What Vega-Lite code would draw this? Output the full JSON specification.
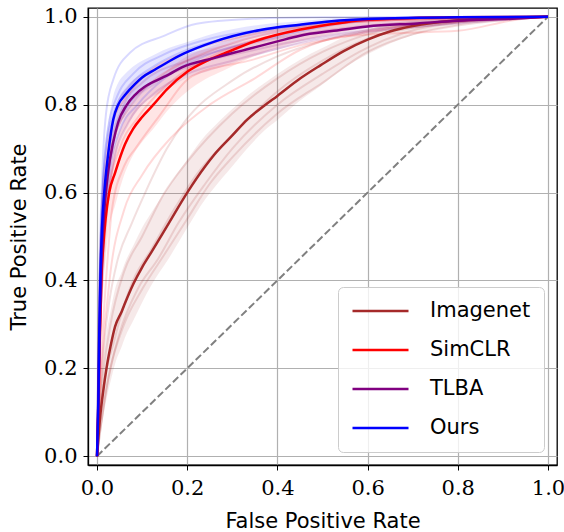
{
  "$schema": "https://vega.github.io/schema/vega-lite/v6.json",
  "width": 469,
  "height": 457,
  "autosize": {"type": "none"},
  "padding": {"left": 88, "top": 8, "right": 7, "bottom": 67},
  "config": {
    "view": {"stroke": "black", "strokeWidth": 1.3},
    "axis": {
      "labelFont": "DejaVu Serif",
      "labelFontSize": 21,
      "labelColor": "black",
      "titleFont": "DejaVu Sans",
      "titleFontSize": 21,
      "titleFontWeight": "normal",
      "titleColor": "black",
      "domainColor": "black",
      "domainWidth": 1.3,
      "tickColor": "black",
      "tickSize": 5,
      "tickWidth": 1,
      "grid": true,
      "gridColor": "#b0b0b0",
      "gridWidth": 1.2
    },
    "axisX": {"labelPadding": 7, "titlePadding": 12},
    "axisY": {"labelPadding": 6, "titlePadding": 14},
    "legend": {
      "labelFont": "DejaVu Sans",
      "labelFontSize": 21,
      "labelColor": "black",
      "symbolStrokeWidth": 2.5,
      "rowPadding": 17,
      "labelOffset": 20,
      "padding": 13,
      "fillColor": "rgba(255,255,255,0.8)",
      "strokeColor": "#cccccc",
      "cornerRadius": 5
    }
  },
  "resolve": {"legend": {"color": "independent"}},
  "datasets": {
    "diag": [{"fpr": 0, "tpr": 0}, {"fpr": 1, "tpr": 1}],
    "mean": [
      {"method": "Imagenet", "fpr": 0, "tpr": 0, "lo": 0, "hi": 0},
      {"method": "Imagenet", "fpr": 0.007, "tpr": 0.09, "lo": 0.05, "hi": 0.14},
      {"method": "Imagenet", "fpr": 0.014, "tpr": 0.15, "lo": 0.09, "hi": 0.22},
      {"method": "Imagenet", "fpr": 0.021, "tpr": 0.2, "lo": 0.13, "hi": 0.28},
      {"method": "Imagenet", "fpr": 0.03, "tpr": 0.25, "lo": 0.17, "hi": 0.33},
      {"method": "Imagenet", "fpr": 0.04, "tpr": 0.295, "lo": 0.21, "hi": 0.38},
      {"method": "Imagenet", "fpr": 0.055, "tpr": 0.33, "lo": 0.25, "hi": 0.42},
      {"method": "Imagenet", "fpr": 0.062, "tpr": 0.348, "lo": 0.27, "hi": 0.44},
      {"method": "Imagenet", "fpr": 0.081, "tpr": 0.393, "lo": 0.31, "hi": 0.48},
      {"method": "Imagenet", "fpr": 0.1, "tpr": 0.43, "lo": 0.35, "hi": 0.52},
      {"method": "Imagenet", "fpr": 0.121, "tpr": 0.465, "lo": 0.39, "hi": 0.555},
      {"method": "Imagenet", "fpr": 0.159, "tpr": 0.53, "lo": 0.45, "hi": 0.615},
      {"method": "Imagenet", "fpr": 0.2, "tpr": 0.6, "lo": 0.52, "hi": 0.675},
      {"method": "Imagenet", "fpr": 0.24, "tpr": 0.66, "lo": 0.585, "hi": 0.73},
      {"method": "Imagenet", "fpr": 0.259, "tpr": 0.685, "lo": 0.61, "hi": 0.75},
      {"method": "Imagenet", "fpr": 0.3, "tpr": 0.73, "lo": 0.66, "hi": 0.79},
      {"method": "Imagenet", "fpr": 0.333, "tpr": 0.766, "lo": 0.7, "hi": 0.82},
      {"method": "Imagenet", "fpr": 0.37, "tpr": 0.797, "lo": 0.74, "hi": 0.848},
      {"method": "Imagenet", "fpr": 0.4, "tpr": 0.82, "lo": 0.765, "hi": 0.87},
      {"method": "Imagenet", "fpr": 0.451, "tpr": 0.86, "lo": 0.81, "hi": 0.903},
      {"method": "Imagenet", "fpr": 0.496, "tpr": 0.89, "lo": 0.843, "hi": 0.927},
      {"method": "Imagenet", "fpr": 0.547, "tpr": 0.922, "lo": 0.883, "hi": 0.953},
      {"method": "Imagenet", "fpr": 0.6, "tpr": 0.948, "lo": 0.915, "hi": 0.97},
      {"method": "Imagenet", "fpr": 0.651, "tpr": 0.967, "lo": 0.94, "hi": 0.985},
      {"method": "Imagenet", "fpr": 0.7, "tpr": 0.979, "lo": 0.958, "hi": 0.991},
      {"method": "Imagenet", "fpr": 0.8, "tpr": 0.992, "lo": 0.98, "hi": 0.998},
      {"method": "Imagenet", "fpr": 0.894, "tpr": 0.997, "lo": 0.993, "hi": 1},
      {"method": "Imagenet", "fpr": 1, "tpr": 1, "lo": 1, "hi": 1},

      {"method": "SimCLR", "fpr": 0, "tpr": 0, "lo": 0, "hi": 0},
      {"method": "SimCLR", "fpr": 0.003, "tpr": 0.1, "lo": 0.06, "hi": 0.16},
      {"method": "SimCLR", "fpr": 0.006, "tpr": 0.26, "lo": 0.18, "hi": 0.35},
      {"method": "SimCLR", "fpr": 0.01, "tpr": 0.41, "lo": 0.32, "hi": 0.5},
      {"method": "SimCLR", "fpr": 0.014, "tpr": 0.48, "lo": 0.39, "hi": 0.57},
      {"method": "SimCLR", "fpr": 0.019, "tpr": 0.54, "lo": 0.45, "hi": 0.62},
      {"method": "SimCLR", "fpr": 0.027, "tpr": 0.6, "lo": 0.52, "hi": 0.67},
      {"method": "SimCLR", "fpr": 0.04, "tpr": 0.645, "lo": 0.57, "hi": 0.71},
      {"method": "SimCLR", "fpr": 0.062, "tpr": 0.71, "lo": 0.645, "hi": 0.77},
      {"method": "SimCLR", "fpr": 0.08, "tpr": 0.745, "lo": 0.685, "hi": 0.8},
      {"method": "SimCLR", "fpr": 0.1, "tpr": 0.772, "lo": 0.715, "hi": 0.825},
      {"method": "SimCLR", "fpr": 0.125, "tpr": 0.8, "lo": 0.745, "hi": 0.85},
      {"method": "SimCLR", "fpr": 0.155, "tpr": 0.835, "lo": 0.785, "hi": 0.878},
      {"method": "SimCLR", "fpr": 0.2, "tpr": 0.875, "lo": 0.83, "hi": 0.91},
      {"method": "SimCLR", "fpr": 0.24, "tpr": 0.898, "lo": 0.858, "hi": 0.928},
      {"method": "SimCLR", "fpr": 0.281, "tpr": 0.916, "lo": 0.878, "hi": 0.943},
      {"method": "SimCLR", "fpr": 0.355, "tpr": 0.946, "lo": 0.913, "hi": 0.968},
      {"method": "SimCLR", "fpr": 0.451, "tpr": 0.971, "lo": 0.945, "hi": 0.985},
      {"method": "SimCLR", "fpr": 0.54, "tpr": 0.986, "lo": 0.965, "hi": 0.995},
      {"method": "SimCLR", "fpr": 0.6, "tpr": 0.993, "lo": 0.975, "hi": 0.998},
      {"method": "SimCLR", "fpr": 0.8, "tpr": 0.999, "lo": 0.99, "hi": 1},
      {"method": "SimCLR", "fpr": 1, "tpr": 1, "lo": 1, "hi": 1},

      {"method": "TLBA", "fpr": 0, "tpr": 0, "lo": 0, "hi": 0},
      {"method": "TLBA", "fpr": 0.003, "tpr": 0.12, "lo": 0.08, "hi": 0.17},
      {"method": "TLBA", "fpr": 0.006, "tpr": 0.28, "lo": 0.21, "hi": 0.35},
      {"method": "TLBA", "fpr": 0.009, "tpr": 0.41, "lo": 0.33, "hi": 0.49},
      {"method": "TLBA", "fpr": 0.012, "tpr": 0.49, "lo": 0.41, "hi": 0.57},
      {"method": "TLBA", "fpr": 0.017, "tpr": 0.57, "lo": 0.49, "hi": 0.64},
      {"method": "TLBA", "fpr": 0.025, "tpr": 0.65, "lo": 0.58, "hi": 0.71},
      {"method": "TLBA", "fpr": 0.036, "tpr": 0.715, "lo": 0.655, "hi": 0.77},
      {"method": "TLBA", "fpr": 0.047, "tpr": 0.76, "lo": 0.71, "hi": 0.81},
      {"method": "TLBA", "fpr": 0.065, "tpr": 0.798, "lo": 0.75, "hi": 0.84},
      {"method": "TLBA", "fpr": 0.085, "tpr": 0.823, "lo": 0.78, "hi": 0.86},
      {"method": "TLBA", "fpr": 0.105, "tpr": 0.84, "lo": 0.805, "hi": 0.873},
      {"method": "TLBA", "fpr": 0.136, "tpr": 0.857, "lo": 0.825, "hi": 0.887},
      {"method": "TLBA", "fpr": 0.16, "tpr": 0.869, "lo": 0.838, "hi": 0.897},
      {"method": "TLBA", "fpr": 0.188, "tpr": 0.885, "lo": 0.855, "hi": 0.911},
      {"method": "TLBA", "fpr": 0.259, "tpr": 0.906, "lo": 0.88, "hi": 0.93},
      {"method": "TLBA", "fpr": 0.303, "tpr": 0.918, "lo": 0.895, "hi": 0.94},
      {"method": "TLBA", "fpr": 0.333, "tpr": 0.926, "lo": 0.905, "hi": 0.946},
      {"method": "TLBA", "fpr": 0.4, "tpr": 0.944, "lo": 0.925, "hi": 0.96},
      {"method": "TLBA", "fpr": 0.45, "tpr": 0.957, "lo": 0.94, "hi": 0.97},
      {"method": "TLBA", "fpr": 0.525, "tpr": 0.968, "lo": 0.955, "hi": 0.98},
      {"method": "TLBA", "fpr": 0.6, "tpr": 0.978, "lo": 0.965, "hi": 0.988},
      {"method": "TLBA", "fpr": 0.71, "tpr": 0.985, "lo": 0.975, "hi": 0.993},
      {"method": "TLBA", "fpr": 0.8, "tpr": 0.991, "lo": 0.984, "hi": 0.996},
      {"method": "TLBA", "fpr": 0.93, "tpr": 0.996, "lo": 0.992, "hi": 0.999},
      {"method": "TLBA", "fpr": 1, "tpr": 1, "lo": 1, "hi": 1},

      {"method": "Ours", "fpr": 0, "tpr": 0, "lo": 0, "hi": 0},
      {"method": "Ours", "fpr": 0.003, "tpr": 0.13, "lo": 0.09, "hi": 0.18},
      {"method": "Ours", "fpr": 0.005, "tpr": 0.28, "lo": 0.21, "hi": 0.36},
      {"method": "Ours", "fpr": 0.008, "tpr": 0.43, "lo": 0.35, "hi": 0.52},
      {"method": "Ours", "fpr": 0.011, "tpr": 0.52, "lo": 0.44, "hi": 0.61},
      {"method": "Ours", "fpr": 0.016, "tpr": 0.6, "lo": 0.52, "hi": 0.69},
      {"method": "Ours", "fpr": 0.025, "tpr": 0.69, "lo": 0.62, "hi": 0.76},
      {"method": "Ours", "fpr": 0.036, "tpr": 0.766, "lo": 0.71, "hi": 0.82},
      {"method": "Ours", "fpr": 0.047, "tpr": 0.8, "lo": 0.75, "hi": 0.85},
      {"method": "Ours", "fpr": 0.062, "tpr": 0.822, "lo": 0.775, "hi": 0.87},
      {"method": "Ours", "fpr": 0.084, "tpr": 0.847, "lo": 0.805, "hi": 0.89},
      {"method": "Ours", "fpr": 0.1, "tpr": 0.862, "lo": 0.825, "hi": 0.9},
      {"method": "Ours", "fpr": 0.129, "tpr": 0.88, "lo": 0.845, "hi": 0.915},
      {"method": "Ours", "fpr": 0.162, "tpr": 0.9, "lo": 0.87, "hi": 0.93},
      {"method": "Ours", "fpr": 0.192, "tpr": 0.916, "lo": 0.89, "hi": 0.94},
      {"method": "Ours", "fpr": 0.259, "tpr": 0.943, "lo": 0.922, "hi": 0.962},
      {"method": "Ours", "fpr": 0.362, "tpr": 0.97, "lo": 0.955, "hi": 0.982},
      {"method": "Ours", "fpr": 0.45, "tpr": 0.982, "lo": 0.97, "hi": 0.99},
      {"method": "Ours", "fpr": 0.52, "tpr": 0.99, "lo": 0.982, "hi": 0.996},
      {"method": "Ours", "fpr": 0.6, "tpr": 0.995, "lo": 0.99, "hi": 0.999},
      {"method": "Ours", "fpr": 0.8, "tpr": 0.999, "lo": 0.997, "hi": 1},
      {"method": "Ours", "fpr": 1, "tpr": 1, "lo": 1, "hi": 1}
    ],
    "folds": [
      {"method": "Imagenet", "fold": "B1", "fpr": 0, "tpr": 0},
      {"method": "Imagenet", "fold": "B1", "fpr": 0.005, "tpr": 0.1},
      {"method": "Imagenet", "fold": "B1", "fpr": 0.015, "tpr": 0.25},
      {"method": "Imagenet", "fold": "B1", "fpr": 0.03, "tpr": 0.37},
      {"method": "Imagenet", "fold": "B1", "fpr": 0.044, "tpr": 0.44},
      {"method": "Imagenet", "fold": "B1", "fpr": 0.077, "tpr": 0.53},
      {"method": "Imagenet", "fold": "B1", "fpr": 0.107, "tpr": 0.6},
      {"method": "Imagenet", "fold": "B1", "fpr": 0.155, "tpr": 0.7},
      {"method": "Imagenet", "fold": "B1", "fpr": 0.192, "tpr": 0.758},
      {"method": "Imagenet", "fold": "B1", "fpr": 0.303, "tpr": 0.857},
      {"method": "Imagenet", "fold": "B1", "fpr": 0.4, "tpr": 0.91},
      {"method": "Imagenet", "fold": "B1", "fpr": 0.5, "tpr": 0.945},
      {"method": "Imagenet", "fold": "B1", "fpr": 0.6, "tpr": 0.97},
      {"method": "Imagenet", "fold": "B1", "fpr": 0.8, "tpr": 0.99},
      {"method": "Imagenet", "fold": "B1", "fpr": 1, "tpr": 1},
      {"method": "Imagenet", "fold": "B2", "fpr": 0, "tpr": 0},
      {"method": "Imagenet", "fold": "B2", "fpr": 0.01, "tpr": 0.15},
      {"method": "Imagenet", "fold": "B2", "fpr": 0.03, "tpr": 0.3},
      {"method": "Imagenet", "fold": "B2", "fpr": 0.06, "tpr": 0.42},
      {"method": "Imagenet", "fold": "B2", "fpr": 0.1, "tpr": 0.5},
      {"method": "Imagenet", "fold": "B2", "fpr": 0.15, "tpr": 0.6},
      {"method": "Imagenet", "fold": "B2", "fpr": 0.2, "tpr": 0.67},
      {"method": "Imagenet", "fold": "B2", "fpr": 0.3, "tpr": 0.78},
      {"method": "Imagenet", "fold": "B2", "fpr": 0.4, "tpr": 0.86},
      {"method": "Imagenet", "fold": "B2", "fpr": 0.5, "tpr": 0.92},
      {"method": "Imagenet", "fold": "B2", "fpr": 0.6, "tpr": 0.96},
      {"method": "Imagenet", "fold": "B2", "fpr": 0.8, "tpr": 0.99},
      {"method": "Imagenet", "fold": "B2", "fpr": 1, "tpr": 1},
      {"method": "Imagenet", "fold": "B3", "fpr": 0, "tpr": 0},
      {"method": "Imagenet", "fold": "B3", "fpr": 0.01, "tpr": 0.08},
      {"method": "Imagenet", "fold": "B3", "fpr": 0.03, "tpr": 0.2},
      {"method": "Imagenet", "fold": "B3", "fpr": 0.06, "tpr": 0.3},
      {"method": "Imagenet", "fold": "B3", "fpr": 0.1, "tpr": 0.38},
      {"method": "Imagenet", "fold": "B3", "fpr": 0.15, "tpr": 0.46},
      {"method": "Imagenet", "fold": "B3", "fpr": 0.2, "tpr": 0.54},
      {"method": "Imagenet", "fold": "B3", "fpr": 0.25, "tpr": 0.62},
      {"method": "Imagenet", "fold": "B3", "fpr": 0.3, "tpr": 0.68},
      {"method": "Imagenet", "fold": "B3", "fpr": 0.4, "tpr": 0.78},
      {"method": "Imagenet", "fold": "B3", "fpr": 0.5, "tpr": 0.85},
      {"method": "Imagenet", "fold": "B3", "fpr": 0.6, "tpr": 0.92},
      {"method": "Imagenet", "fold": "B3", "fpr": 0.7, "tpr": 0.96},
      {"method": "Imagenet", "fold": "B3", "fpr": 0.8, "tpr": 0.98},
      {"method": "Imagenet", "fold": "B3", "fpr": 1, "tpr": 1},
      {"method": "Imagenet", "fold": "B4", "fpr": 0, "tpr": 0},
      {"method": "Imagenet", "fold": "B4", "fpr": 0.02, "tpr": 0.15},
      {"method": "Imagenet", "fold": "B4", "fpr": 0.05, "tpr": 0.28},
      {"method": "Imagenet", "fold": "B4", "fpr": 0.09, "tpr": 0.38},
      {"method": "Imagenet", "fold": "B4", "fpr": 0.136, "tpr": 0.45},
      {"method": "Imagenet", "fold": "B4", "fpr": 0.18, "tpr": 0.53},
      {"method": "Imagenet", "fold": "B4", "fpr": 0.24, "tpr": 0.62},
      {"method": "Imagenet", "fold": "B4", "fpr": 0.3, "tpr": 0.7},
      {"method": "Imagenet", "fold": "B4", "fpr": 0.4, "tpr": 0.8},
      {"method": "Imagenet", "fold": "B4", "fpr": 0.5, "tpr": 0.87},
      {"method": "Imagenet", "fold": "B4", "fpr": 0.6, "tpr": 0.93},
      {"method": "Imagenet", "fold": "B4", "fpr": 0.75, "tpr": 0.98},
      {"method": "Imagenet", "fold": "B4", "fpr": 1, "tpr": 1},
      {"method": "Imagenet", "fold": "B5", "fpr": 0, "tpr": 0},
      {"method": "Imagenet", "fold": "B5", "fpr": 0.01, "tpr": 0.12},
      {"method": "Imagenet", "fold": "B5", "fpr": 0.04, "tpr": 0.27},
      {"method": "Imagenet", "fold": "B5", "fpr": 0.08, "tpr": 0.4},
      {"method": "Imagenet", "fold": "B5", "fpr": 0.12, "tpr": 0.47},
      {"method": "Imagenet", "fold": "B5", "fpr": 0.17, "tpr": 0.56},
      {"method": "Imagenet", "fold": "B5", "fpr": 0.22, "tpr": 0.64},
      {"method": "Imagenet", "fold": "B5", "fpr": 0.3, "tpr": 0.73},
      {"method": "Imagenet", "fold": "B5", "fpr": 0.4, "tpr": 0.83},
      {"method": "Imagenet", "fold": "B5", "fpr": 0.5, "tpr": 0.9},
      {"method": "Imagenet", "fold": "B5", "fpr": 0.6, "tpr": 0.95},
      {"method": "Imagenet", "fold": "B5", "fpr": 0.7, "tpr": 0.975},
      {"method": "Imagenet", "fold": "B5", "fpr": 1, "tpr": 1},

      {"method": "SimCLR", "fold": "R1", "fpr": 0, "tpr": 0},
      {"method": "SimCLR", "fold": "R1", "fpr": 0.005, "tpr": 0.35},
      {"method": "SimCLR", "fold": "R1", "fpr": 0.01, "tpr": 0.55},
      {"method": "SimCLR", "fold": "R1", "fpr": 0.02, "tpr": 0.68},
      {"method": "SimCLR", "fold": "R1", "fpr": 0.035, "tpr": 0.76},
      {"method": "SimCLR", "fold": "R1", "fpr": 0.06, "tpr": 0.81},
      {"method": "SimCLR", "fold": "R1", "fpr": 0.1, "tpr": 0.86},
      {"method": "SimCLR", "fold": "R1", "fpr": 0.2, "tpr": 0.92},
      {"method": "SimCLR", "fold": "R1", "fpr": 0.3, "tpr": 0.95},
      {"method": "SimCLR", "fold": "R1", "fpr": 0.4, "tpr": 0.97},
      {"method": "SimCLR", "fold": "R1", "fpr": 0.6, "tpr": 0.99},
      {"method": "SimCLR", "fold": "R1", "fpr": 1, "tpr": 1},
      {"method": "SimCLR", "fold": "R2", "fpr": 0, "tpr": 0},
      {"method": "SimCLR", "fold": "R2", "fpr": 0.005, "tpr": 0.25},
      {"method": "SimCLR", "fold": "R2", "fpr": 0.012, "tpr": 0.45},
      {"method": "SimCLR", "fold": "R2", "fpr": 0.025, "tpr": 0.6},
      {"method": "SimCLR", "fold": "R2", "fpr": 0.05, "tpr": 0.7},
      {"method": "SimCLR", "fold": "R2", "fpr": 0.09, "tpr": 0.77},
      {"method": "SimCLR", "fold": "R2", "fpr": 0.15, "tpr": 0.84},
      {"method": "SimCLR", "fold": "R2", "fpr": 0.2, "tpr": 0.88},
      {"method": "SimCLR", "fold": "R2", "fpr": 0.3, "tpr": 0.93},
      {"method": "SimCLR", "fold": "R2", "fpr": 0.45, "tpr": 0.97},
      {"method": "SimCLR", "fold": "R2", "fpr": 0.6, "tpr": 0.99},
      {"method": "SimCLR", "fold": "R2", "fpr": 1, "tpr": 1},
      {"method": "SimCLR", "fold": "R3", "fpr": 0, "tpr": 0},
      {"method": "SimCLR", "fold": "R3", "fpr": 0.008, "tpr": 0.2},
      {"method": "SimCLR", "fold": "R3", "fpr": 0.02, "tpr": 0.4},
      {"method": "SimCLR", "fold": "R3", "fpr": 0.033, "tpr": 0.56},
      {"method": "SimCLR", "fold": "R3", "fpr": 0.06, "tpr": 0.66},
      {"method": "SimCLR", "fold": "R3", "fpr": 0.085, "tpr": 0.7},
      {"method": "SimCLR", "fold": "R3", "fpr": 0.137, "tpr": 0.773},
      {"method": "SimCLR", "fold": "R3", "fpr": 0.211, "tpr": 0.865},
      {"method": "SimCLR", "fold": "R3", "fpr": 0.344, "tpr": 0.902},
      {"method": "SimCLR", "fold": "R3", "fpr": 0.45, "tpr": 0.935},
      {"method": "SimCLR", "fold": "R3", "fpr": 0.55, "tpr": 0.955},
      {"method": "SimCLR", "fold": "R3", "fpr": 0.65, "tpr": 0.975},
      {"method": "SimCLR", "fold": "R3", "fpr": 0.8, "tpr": 0.99},
      {"method": "SimCLR", "fold": "R3", "fpr": 1, "tpr": 1},
      {"method": "SimCLR", "fold": "R4", "fpr": 0, "tpr": 0},
      {"method": "SimCLR", "fold": "R4", "fpr": 0.01, "tpr": 0.2},
      {"method": "SimCLR", "fold": "R4", "fpr": 0.03, "tpr": 0.42},
      {"method": "SimCLR", "fold": "R4", "fpr": 0.06, "tpr": 0.56},
      {"method": "SimCLR", "fold": "R4", "fpr": 0.1, "tpr": 0.64},
      {"method": "SimCLR", "fold": "R4", "fpr": 0.167, "tpr": 0.728},
      {"method": "SimCLR", "fold": "R4", "fpr": 0.25, "tpr": 0.8},
      {"method": "SimCLR", "fold": "R4", "fpr": 0.35, "tpr": 0.86},
      {"method": "SimCLR", "fold": "R4", "fpr": 0.451, "tpr": 0.925},
      {"method": "SimCLR", "fold": "R4", "fpr": 0.547, "tpr": 0.955},
      {"method": "SimCLR", "fold": "R4", "fpr": 0.673, "tpr": 0.963},
      {"method": "SimCLR", "fold": "R4", "fpr": 0.8, "tpr": 0.968},
      {"method": "SimCLR", "fold": "R4", "fpr": 0.933, "tpr": 0.994},
      {"method": "SimCLR", "fold": "R4", "fpr": 1, "tpr": 1},
      {"method": "SimCLR", "fold": "R5", "fpr": 0, "tpr": 0},
      {"method": "SimCLR", "fold": "R5", "fpr": 0.004, "tpr": 0.3},
      {"method": "SimCLR", "fold": "R5", "fpr": 0.01, "tpr": 0.5},
      {"method": "SimCLR", "fold": "R5", "fpr": 0.02, "tpr": 0.64},
      {"method": "SimCLR", "fold": "R5", "fpr": 0.04, "tpr": 0.73},
      {"method": "SimCLR", "fold": "R5", "fpr": 0.07, "tpr": 0.79},
      {"method": "SimCLR", "fold": "R5", "fpr": 0.12, "tpr": 0.85},
      {"method": "SimCLR", "fold": "R5", "fpr": 0.2, "tpr": 0.9},
      {"method": "SimCLR", "fold": "R5", "fpr": 0.3, "tpr": 0.94},
      {"method": "SimCLR", "fold": "R5", "fpr": 0.45, "tpr": 0.975},
      {"method": "SimCLR", "fold": "R5", "fpr": 0.6, "tpr": 0.99},
      {"method": "SimCLR", "fold": "R5", "fpr": 1, "tpr": 1},

      {"method": "TLBA", "fold": "P1", "fpr": 0, "tpr": 0},
      {"method": "TLBA", "fold": "P1", "fpr": 0.005, "tpr": 0.3},
      {"method": "TLBA", "fold": "P1", "fpr": 0.015, "tpr": 0.55},
      {"method": "TLBA", "fold": "P1", "fpr": 0.03, "tpr": 0.7},
      {"method": "TLBA", "fold": "P1", "fpr": 0.06, "tpr": 0.8},
      {"method": "TLBA", "fold": "P1", "fpr": 0.1, "tpr": 0.85},
      {"method": "TLBA", "fold": "P1", "fpr": 0.2, "tpr": 0.9},
      {"method": "TLBA", "fold": "P1", "fpr": 0.3, "tpr": 0.93},
      {"method": "TLBA", "fold": "P1", "fpr": 0.45, "tpr": 0.96},
      {"method": "TLBA", "fold": "P1", "fpr": 0.6, "tpr": 0.98},
      {"method": "TLBA", "fold": "P1", "fpr": 0.8, "tpr": 0.993},
      {"method": "TLBA", "fold": "P1", "fpr": 1, "tpr": 1},
      {"method": "TLBA", "fold": "P2", "fpr": 0, "tpr": 0},
      {"method": "TLBA", "fold": "P2", "fpr": 0.006, "tpr": 0.25},
      {"method": "TLBA", "fold": "P2", "fpr": 0.018, "tpr": 0.5},
      {"method": "TLBA", "fold": "P2", "fpr": 0.035, "tpr": 0.66},
      {"method": "TLBA", "fold": "P2", "fpr": 0.07, "tpr": 0.76},
      {"method": "TLBA", "fold": "P2", "fpr": 0.12, "tpr": 0.82},
      {"method": "TLBA", "fold": "P2", "fpr": 0.2, "tpr": 0.87},
      {"method": "TLBA", "fold": "P2", "fpr": 0.3, "tpr": 0.9},
      {"method": "TLBA", "fold": "P2", "fpr": 0.45, "tpr": 0.94},
      {"method": "TLBA", "fold": "P2", "fpr": 0.6, "tpr": 0.965},
      {"method": "TLBA", "fold": "P2", "fpr": 0.8, "tpr": 0.985},
      {"method": "TLBA", "fold": "P2", "fpr": 1, "tpr": 1},
      {"method": "TLBA", "fold": "P3", "fpr": 0, "tpr": 0},
      {"method": "TLBA", "fold": "P3", "fpr": 0.005, "tpr": 0.28},
      {"method": "TLBA", "fold": "P3", "fpr": 0.015, "tpr": 0.52},
      {"method": "TLBA", "fold": "P3", "fpr": 0.03, "tpr": 0.68},
      {"method": "TLBA", "fold": "P3", "fpr": 0.06, "tpr": 0.78},
      {"method": "TLBA", "fold": "P3", "fpr": 0.11, "tpr": 0.84},
      {"method": "TLBA", "fold": "P3", "fpr": 0.2, "tpr": 0.885},
      {"method": "TLBA", "fold": "P3", "fpr": 0.35, "tpr": 0.925},
      {"method": "TLBA", "fold": "P3", "fpr": 0.5, "tpr": 0.955},
      {"method": "TLBA", "fold": "P3", "fpr": 0.7, "tpr": 0.98},
      {"method": "TLBA", "fold": "P3", "fpr": 1, "tpr": 1},

      {"method": "Ours", "fold": "U1", "fpr": 0, "tpr": 0},
      {"method": "Ours", "fold": "U1", "fpr": 0.005, "tpr": 0.4},
      {"method": "Ours", "fold": "U1", "fpr": 0.012, "tpr": 0.65},
      {"method": "Ours", "fold": "U1", "fpr": 0.02, "tpr": 0.78},
      {"method": "Ours", "fold": "U1", "fpr": 0.036, "tpr": 0.857},
      {"method": "Ours", "fold": "U1", "fpr": 0.073, "tpr": 0.918},
      {"method": "Ours", "fold": "U1", "fpr": 0.147, "tpr": 0.956},
      {"method": "Ours", "fold": "U1", "fpr": 0.221, "tpr": 0.984},
      {"method": "Ours", "fold": "U1", "fpr": 0.333, "tpr": 0.995},
      {"method": "Ours", "fold": "U1", "fpr": 0.5, "tpr": 0.999},
      {"method": "Ours", "fold": "U1", "fpr": 1, "tpr": 1},
      {"method": "Ours", "fold": "U2", "fpr": 0, "tpr": 0},
      {"method": "Ours", "fold": "U2", "fpr": 0.005, "tpr": 0.35},
      {"method": "Ours", "fold": "U2", "fpr": 0.012, "tpr": 0.6},
      {"method": "Ours", "fold": "U2", "fpr": 0.025, "tpr": 0.75},
      {"method": "Ours", "fold": "U2", "fpr": 0.045, "tpr": 0.82},
      {"method": "Ours", "fold": "U2", "fpr": 0.08, "tpr": 0.87},
      {"method": "Ours", "fold": "U2", "fpr": 0.15, "tpr": 0.915},
      {"method": "Ours", "fold": "U2", "fpr": 0.25, "tpr": 0.95},
      {"method": "Ours", "fold": "U2", "fpr": 0.4, "tpr": 0.975},
      {"method": "Ours", "fold": "U2", "fpr": 0.6, "tpr": 0.995},
      {"method": "Ours", "fold": "U2", "fpr": 1, "tpr": 1},
      {"method": "Ours", "fold": "U3", "fpr": 0, "tpr": 0},
      {"method": "Ours", "fold": "U3", "fpr": 0.006, "tpr": 0.25},
      {"method": "Ours", "fold": "U3", "fpr": 0.015, "tpr": 0.5},
      {"method": "Ours", "fold": "U3", "fpr": 0.03, "tpr": 0.66},
      {"method": "Ours", "fold": "U3", "fpr": 0.05, "tpr": 0.74},
      {"method": "Ours", "fold": "U3", "fpr": 0.09, "tpr": 0.8},
      {"method": "Ours", "fold": "U3", "fpr": 0.15, "tpr": 0.86},
      {"method": "Ours", "fold": "U3", "fpr": 0.25, "tpr": 0.915},
      {"method": "Ours", "fold": "U3", "fpr": 0.4, "tpr": 0.955},
      {"method": "Ours", "fold": "U3", "fpr": 0.55, "tpr": 0.985},
      {"method": "Ours", "fold": "U3", "fpr": 0.7, "tpr": 0.997},
      {"method": "Ours", "fold": "U3", "fpr": 1, "tpr": 1},
      {"method": "Ours", "fold": "U4", "fpr": 0, "tpr": 0},
      {"method": "Ours", "fold": "U4", "fpr": 0.004, "tpr": 0.3},
      {"method": "Ours", "fold": "U4", "fpr": 0.01, "tpr": 0.55},
      {"method": "Ours", "fold": "U4", "fpr": 0.02, "tpr": 0.7},
      {"method": "Ours", "fold": "U4", "fpr": 0.04, "tpr": 0.79},
      {"method": "Ours", "fold": "U4", "fpr": 0.07, "tpr": 0.84},
      {"method": "Ours", "fold": "U4", "fpr": 0.13, "tpr": 0.89},
      {"method": "Ours", "fold": "U4", "fpr": 0.2, "tpr": 0.925},
      {"method": "Ours", "fold": "U4", "fpr": 0.3, "tpr": 0.955},
      {"method": "Ours", "fold": "U4", "fpr": 0.45, "tpr": 0.98},
      {"method": "Ours", "fold": "U4", "fpr": 0.6, "tpr": 0.993},
      {"method": "Ours", "fold": "U4", "fpr": 1, "tpr": 1}
    ]
  },
  "encoding": {
    "x": {
      "field": "fpr",
      "type": "quantitative",
      "scale": {"domain": [-0.02, 1.02], "nice": false, "zero": false},
      "axis": {"values": [0, 0.2, 0.4, 0.6, 0.8, 1], "format": ".1f", "title": "False Positive Rate"}
    }
  },
  "layer": [
    {
      "data": {"name": "diag"},
      "mark": {"type": "line", "color": "#808080", "strokeWidth": 2, "strokeDash": [7.4, 3.2]},
      "encoding": {
        "y": {
          "field": "tpr",
          "type": "quantitative",
          "scale": {"domain": [-0.02, 1.02], "nice": false, "zero": false},
          "axis": {"values": [0, 0.2, 0.4, 0.6, 0.8, 1], "format": ".1f", "title": "True Positive Rate"}
        }
      }
    },
    {
      "data": {"name": "mean"},
      "mark": {"type": "area", "opacity": 0.1, "interpolate": "monotone"},
      "encoding": {
        "y": {"field": "lo", "type": "quantitative"},
        "y2": {"field": "hi"},
        "color": {"field": "method", "type": "nominal", "legend": null}
      }
    },
    {
      "data": {"name": "folds"},
      "mark": {"type": "line", "strokeWidth": 2, "opacity": 0.15, "interpolate": "monotone"},
      "encoding": {
        "y": {"field": "tpr", "type": "quantitative"},
        "detail": {"field": "fold", "type": "nominal"},
        "color": {"field": "method", "type": "nominal", "legend": null}
      }
    },
    {
      "data": {"name": "mean"},
      "mark": {"type": "line", "strokeWidth": 2.5, "interpolate": "monotone"},
      "encoding": {
        "y": {"field": "tpr", "type": "quantitative"},
        "color": {
          "field": "method",
          "type": "nominal",
          "scale": {"domain": ["Imagenet", "SimCLR", "TLBA", "Ours"], "range": ["#a52a2a", "#ff0000", "#800080", "#0000ff"]},
          "legend": {"title": null, "orient": "bottom-right", "offset": 13, "symbolType": "stroke", "symbolSize": 3136, "clipHeight": 22}
        }
      }
    }
  ]
}
